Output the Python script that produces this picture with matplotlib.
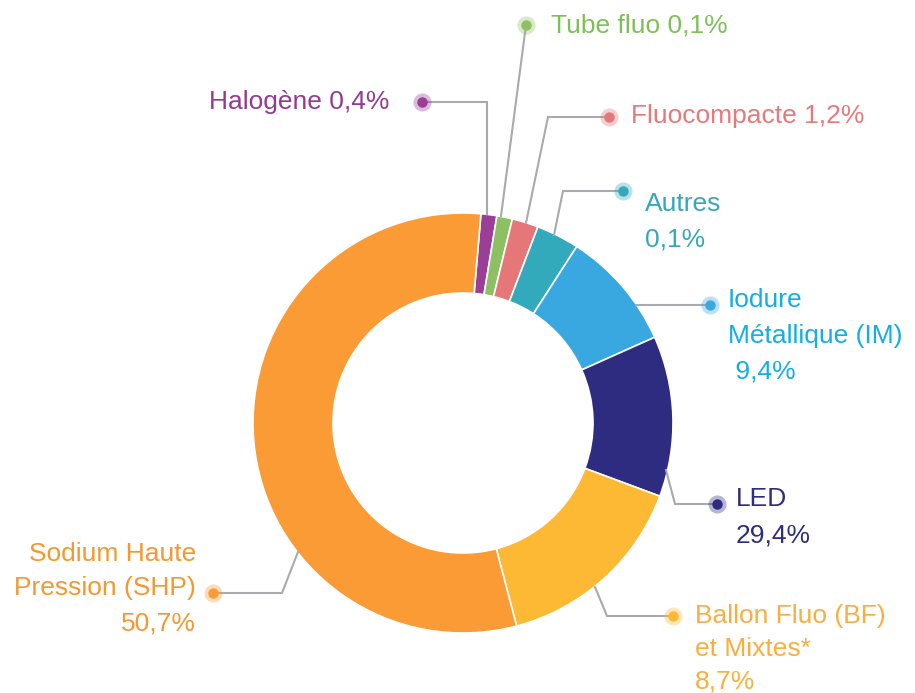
import matplotlib
matplotlib.use("Agg")
import matplotlib.pyplot as plt

# slices, clockwise from the top (angle spans, degrees)
names = ["Halogène", "Tube fluo", "Fluocompacte", "Autres",
         "Iodure Métallique (IM)", "LED", "Ballon Fluo (BF) et Mixtes*",
         "Sodium Haute Pression (SHP)"]
spans = [4.4, 4.3, 7.3, 11.9, 33.1, 44.5, 54.8, 199.7]
slice_colors = ["#9B3E96", "#8CC063", "#E57778", "#33AABB",
                "#3AA8E0", "#2E2C80", "#FDB934", "#FB9B35"]
text_colors = ["#943B91", "#7DC05A", "#E8797A", "#34A8B8",
               "#12AEE8", "#2E2D7F", "#FBAE3F", "#F5982F"]

# label text lines per slice
label_lines = [
    ["Halogène 0,4%"],
    ["Tube fluo 0,1%"],
    ["Fluocompacte 1,2%"],
    ["Autres", "0,1%"],
    ["Iodure", "Métallique (IM)", " 9,4%"],
    ["LED", "29,4%"],
    ["Ballon Fluo (BF)", "et Mixtes*", "8,7%"],
    ["Sodium Haute", "Pression (SHP)", "50,7%"],
]

W, H = 915, 693
CX, CY, R, RING = 463, 423, 210, 80
START = 85.1  # degrees, matplotlib convention


def fy(y):
    # picture rows -> data y (y up)
    return H - y


# leader lines in picture pixels: path from slice edge to the dot
leaders = [
    [(487, 214), (487, 102), (422, 102)],
    [(501, 216), (526, 25)],
    [(526, 223), (548, 117), (609, 117)],
    [(554, 235), (563, 191), (623, 191)],
    [(636, 305), (710, 305)],
    [(666, 470), (675, 504), (717, 504)],
    [(595, 587), (607, 616), (673, 616)],
    [(298, 552), (282, 593), (213, 593)],
]

# text anchor (x, first baseline, alignment, line step)
text_pos = [
    (389, 109, "right", 0),
    (551, 33, "left", 0),
    (631, 123, "left", 0),
    (645, 211, "left", 35),
    (728, 307, "left", 36),
    (736, 506, "left", 36),
    (695, 623, "left", 33),
    (196, 561, "right", 34.5),
]

fig = plt.figure(figsize=(W / 100, H / 100), dpi=100)
ax = fig.add_axes([0, 0, 1, 1])

ax.pie(spans, colors=slice_colors, startangle=START, counterclock=False,
       radius=R, center=(CX, fy(CY)),
       wedgeprops=dict(width=RING, edgecolor="white", linewidth=1.2))

for path, col in zip(leaders, slice_colors):
    xs = [p[0] for p in path]
    ys = [fy(p[1]) for p in path]
    ax.plot(xs, ys, color="#A9AAAD", lw=1.5, solid_joinstyle="miter", zorder=3)
    ax.plot(xs[-1], ys[-1], "o", ms=13, color=col, alpha=0.35, mew=0, zorder=4)
    ax.plot(xs[-1], ys[-1], "o", ms=7.5, color=col, mew=0, zorder=5)

for lines, (x, y0, ha, step), col in zip(label_lines, text_pos, text_colors):
    for i, line in enumerate(lines):
        ax.text(x, fy(y0 + i * step), line, ha=ha, va="baseline",
                fontsize=19, color=col,
                family=["Liberation Sans", "DejaVu Sans"])

ax.set_xlim(0, W)
ax.set_ylim(0, H)
ax.set_aspect("equal")
ax.axis("off")

fig.savefig("out.png", dpi=100, facecolor="white")
